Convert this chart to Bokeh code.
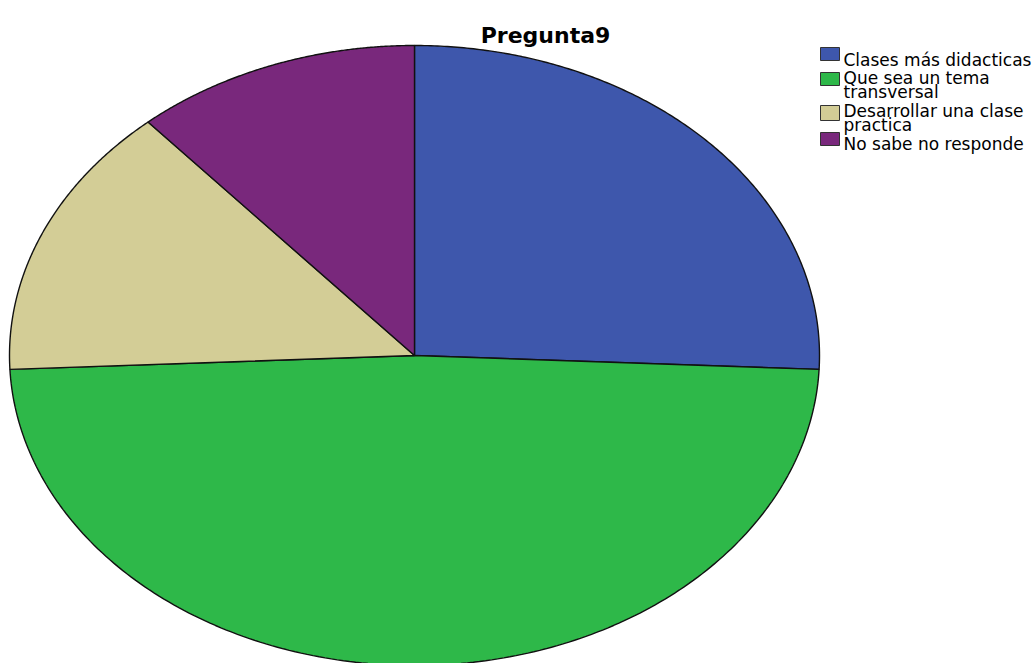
import numpy as np
from bokeh.plotting import figure
from bokeh.models import Range1d
from bokeh.core.properties import value
from bokeh.embed import file_html
from bokeh.resources import INLINE

title = "Pregunta9"
categories = ["Clases más didacticas", "Que sea un tema transversal",
              "Desarrollar una clase practica", "No sabe no responde"]
legend_lines = [["Clases más didacticas"], ["Que sea un tema", "transversal"],
                ["Desarrollar una clase", "practica"], ["No sabe no responde"]]
counts = [9, 17, 5, 4]
colors = ["#3E57AC", "#2EB849", "#D3CD96", "#79287C"]

W, H = 1035, 663
p = figure(width=W, height=H, output_backend="svg", toolbar_location=None,
           x_range=Range1d(0, W), y_range=Range1d(H, 0), min_border=0)
p.axis.visible = False
p.grid.visible = False
p.outline_line_color = None
p.background_fill_color = "white"

# elliptical pie (pixel space)
cx, cy, rx, ry = 414, 355, 405, 310
total = float(sum(counts))
ends = np.cumsum(counts) / total * 2 * np.pi
starts = np.concatenate([[0.0], ends[:-1]])
xs, ys = [], []
for a0, a1 in zip(starts, ends):
    t = np.linspace(a0, a1, 200)
    xs.append(np.concatenate([[cx], cx + rx * np.sin(t)]).tolist())
    ys.append(np.concatenate([[cy], cy - ry * np.cos(t)]).tolist())
p.patches(xs, ys, fill_color=colors, line_color="#111111", line_width=1.4)

# title
p.text(x=[545], y=[35], text=[title], text_font=value("DejaVu Sans"),
       text_font_style="bold", text_font_size="22px", text_align="center",
       text_baseline="alphabetic", text_color="black")

# legend
box_tops = [47, 72, 105, 132]
box_bottoms = [60, 85, 120, 145]
p.quad(left=820, right=839, top=box_tops, bottom=box_bottoms,
       fill_color=colors, line_color="#333333", line_width=1)
baselines = [[59.5], [77.3, 91.7], [110, 124.3], [143.3]]
tx, ty, tt = [], [], []
for lines, bls in zip(legend_lines, baselines):
    for ln, b in zip(lines, bls):
        tx.append(843); ty.append(b); tt.append(ln)
p.text(x=tx, y=ty, text=tt, text_font=value("DejaVu Sans"),
       text_font_size="17px", text_align="left", text_baseline="alphabetic",
       text_color="black")

open("out.html", "w").write(file_html(p, INLINE))
